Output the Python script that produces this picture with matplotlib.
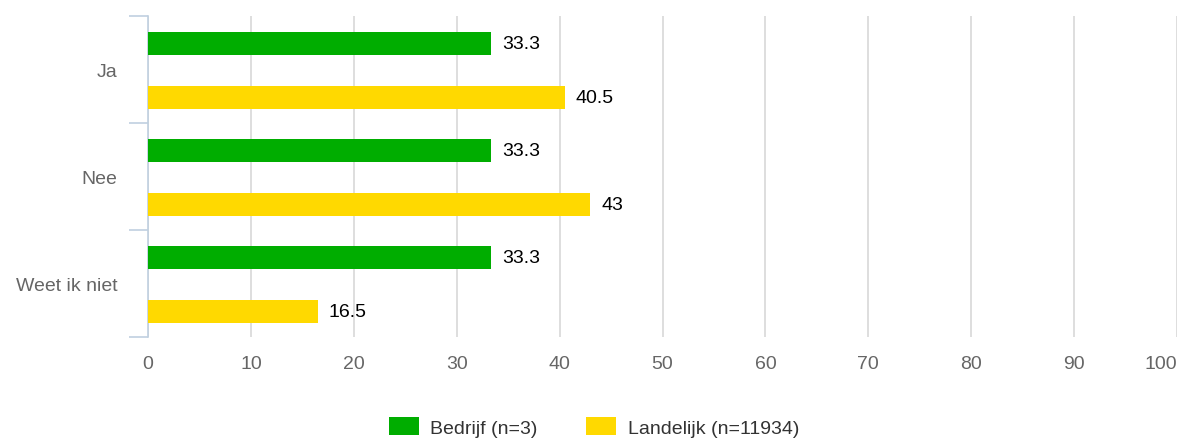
import matplotlib
matplotlib.use("Agg")
import matplotlib.pyplot as plt
from matplotlib.patches import Patch
import numpy as np

categories = ["Ja", "Nee", "Weet ik niet"]
bedrijf = [33.3, 33.3, 33.3]
landelijk = [40.5, 43, 16.5]
series_names = ["Bedrijf (n=3)", "Landelijk (n=11934)"]
colors = ["#00AD00", "#FFD900"]
xticks = list(range(0, 101, 10))

plt.rcParams['font.family'] = ['Liberation Sans', 'DejaVu Sans']

W, H = 1181, 439
fig = plt.figure(figsize=(W / 100, H / 100), dpi=100)
ax = fig.add_axes([148 / W, (H - 338) / H, (1177 - 148) / W, (338 - 17) / H])

y = np.arange(len(categories))
off = 0.25
bh = 0.215
for vals, sgn, col in [(bedrijf, -1, colors[0]), (landelijk, 1, colors[1])]:
    bars = ax.barh(y + sgn * off + 0.01, vals, height=bh, color=col, zorder=3)
    for b, v in zip(bars, vals):
        ax.annotate(f"{v:g}", (v, b.get_y() + b.get_height() / 2),
                    xytext=(8, 0), textcoords="offset points",
                    va="center", ha="left", fontsize=14, color="#000000")

ax.set_xlim(0, 100)
ax.set_ylim(2.5, -0.5)
ax.set_xticks(xticks)
ax.set_xticklabels([str(t) for t in xticks], fontsize=14, color="#666666")
ax.get_xticklabels()[-1].set_horizontalalignment("right")
ax.tick_params(axis="x", length=0, pad=13)
ax.grid(axis="x", color="#d8d8d8", linewidth=1.2, zorder=0)

ax.set_yticks(y)
ax.set_yticklabels(categories, fontsize=14, color="#666666")
ax.set_yticks([-0.5, 0.5, 1.5, 2.5], minor=True)
ax.tick_params(axis="y", which="major", length=0, pad=22)
ax.tick_params(axis="y", which="minor", length=14, color="#c0d0e0", width=1.2)

for s in ["top", "right", "bottom"]:
    ax.spines[s].set_visible(False)
ax.spines["left"].set_color("#c0d0e0")
ax.spines["left"].set_linewidth(1.2)

handles = [Patch(facecolor=c, edgecolor="none") for c in colors]
fig.legend(handles, series_names, loc="center", bbox_to_anchor=(594 / W, 1 - 428 / H),
           ncol=2, frameon=False, fontsize=14, handlelength=1.55, handleheight=1.0,
           columnspacing=2.5, handletextpad=0.6, labelcolor="#333333")

fig.savefig("out.png", dpi=100)
